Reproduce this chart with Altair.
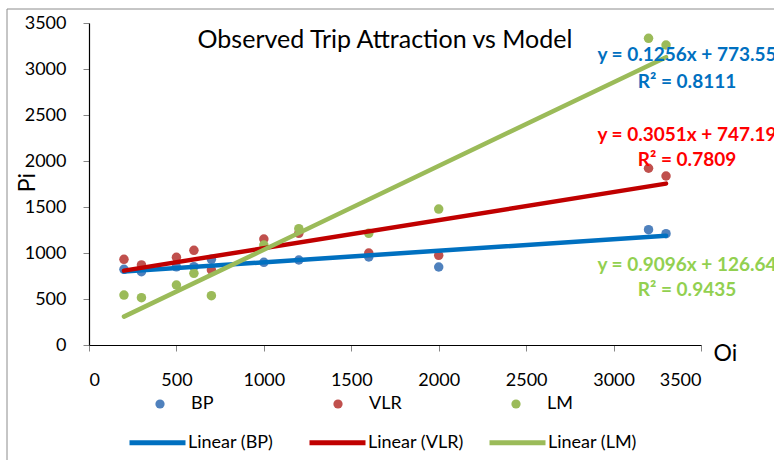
import altair as alt
import pandas as pd

# Observed zone totals (Oi) and trip attractions (Pi) for each model
oi = [200, 300, 500, 600, 700, 1000, 1200, 1600, 2000, 3200, 3300]
bp = [823, 797, 850, 851, 931, 899, 924, 957, 848, 1253, 1210]
vlr = [931, 870, 953, 1029, 815, 1152, 1214, 1000, 975, 1921, 1837]
lm = [543, 514, 652, 779, 536, 1087, 1264, 1214, 1478, 3334, 3261]

series = ["BP", "VLR", "LM"]
slopes = [0.1256, 0.3051, 0.9096]
intercepts = [773.55, 747.19, 126.64]
r_squared = [0.8111, 0.7809, 0.9435]

point_colors = ["#4F81BD", "#C0504D", "#9BBB59"]
line_colors = ["#0070C0", "#C00000", "#9BBB59"]
label_colors = ["#0070C0", "#FF0000", "#92D050"]
axis_ticks = [0, 500, 1000, 1500, 2000, 2500, 3000, 3500]

FONT = "Lato"

# Long-form tables for the scatter points and the fitted lines
points = pd.DataFrame(
    [
        {"Oi": x, "Pi": y, "series": name}
        for name, ys in zip(series, [bp, vlr, lm])
        for x, y in zip(oi, ys)
    ]
)
line_names = [f"Linear ({s})" for s in series]
x_ends = [min(oi), max(oi)]
fits = pd.DataFrame(
    [
        {"Oi": x, "Pi": m * x + c, "trend": name, "order": i}
        for i, (name, m, c) in enumerate(zip(line_names, slopes, intercepts))
        for x in x_ends
    ]
)

x_scale = alt.Scale(domain=[0, 3500], nice=False, zero=True)
y_scale = alt.Scale(domain=[0, 3500], nice=False)

x_axis = alt.Axis(
    values=axis_ticks, grid=False, title="Oi", format="d",
    titleX=624, titleY=8, titleAlign="left", titleBaseline="middle",
    titleFontSize=23, titleFontWeight="normal", titleColor="black",
    labelPadding=20, tickSize=6,
)
y_axis = alt.Axis(
    values=axis_ticks, grid=False, title="Pi", format="d",
    titleX=-62, titleY=159, titleAngle=270, titleAlign="center",
    titleBaseline="middle", titleFontSize=23, titleFontWeight="normal",
    titleColor="black", labelPadding=17, tickSize=6,
)

scatter = alt.Chart(points).mark_circle(size=90, opacity=1).encode(
    x=alt.X("Oi:Q", scale=x_scale, axis=x_axis),
    y=alt.Y("Pi:Q", scale=y_scale, axis=y_axis),
    fill=alt.Fill(
        "series:N",
        scale=alt.Scale(domain=series, range=point_colors),
        legend=alt.Legend(
            title=None, orient="none", legendX=62, legendY=372,
            direction="horizontal", columns=3, columnPadding=105,
            gridAlign="all", symbolType="circle", symbolSize=85,
            labelOffset=22, labelFontSize=18, labelFont=FONT,
            labelColor="black", padding=0,
        ),
    ),
)

trend = alt.Chart(fits).mark_line(strokeWidth=4.5, strokeCap="round").encode(
    x="Oi:Q",
    y="Pi:Q",
    order="order:Q",
    stroke=alt.Stroke(
        "trend:N",
        scale=alt.Scale(domain=line_names, range=line_colors),
        sort=line_names,
        legend=alt.Legend(
            title=None, orient="none", legendX=38, legendY=389,
            direction="horizontal", columns=3, columnPadding=15,
            gridAlign="all", symbolType="stroke", symbolSize=3136,
            symbolStrokeWidth=5, labelOffset=0, labelFontSize=18,
            labelFont=FONT, labelColor="black", padding=0,
        ),
    ),
)

title = alt.Chart().mark_text(
    text="Observed Trip Attraction vs Model", fontSize=25, font=FONT,
    color="black", align="center", baseline="middle",
).encode(x=alt.value(296), y=alt.value(17))

# Regression equations, each with its coefficient of determination
label_rows = [(32, 59), (112, 137), (242, 267)]
labels = []
for i, name in enumerate(series):
    eq = f"y = {slopes[i]:.4f}x + {intercepts[i]:.2f}"
    r2 = f"R² = {r_squared[i]:.4f}"
    for text, ypos in zip([eq, r2], label_rows[i]):
        labels.append(
            alt.Chart().mark_text(
                text=text, fontSize=19, fontWeight="bold", font=FONT,
                color=label_colors[i], align="center", baseline="middle",
            ).encode(x=alt.value(598), y=alt.value(ypos))
        )

# Chart-area frame along the top and left edges
frame_top = alt.Chart().mark_rule(color="#8c8c8c", strokeWidth=1).encode(
    x=alt.value(-82), x2=alt.value(700), y=alt.value(-14)
)
frame_left = alt.Chart().mark_rule(color="#8c8c8c", strokeWidth=1).encode(
    x=alt.value(-82), y=alt.value(-14), y2=alt.value(440)
)

chart = alt.layer(
    frame_top, frame_left, scatter, trend, title, *labels
).properties(
    width=612, height=322,
    autosize=alt.AutoSizeParams(type="none"),
    padding={"left": 89, "top": 23, "right": 73, "bottom": 115},
    background="white",
).configure_view(
    stroke=None
).configure_axis(
    domainColor="black", domainWidth=1.2, tickColor="#868686",
    tickWidth=1, labelFont=FONT, labelFontSize=18, labelColor="black",
    titleFont=FONT,
)

chart.save("out.html", embed_options={"renderer": "svg", "actions": False})
